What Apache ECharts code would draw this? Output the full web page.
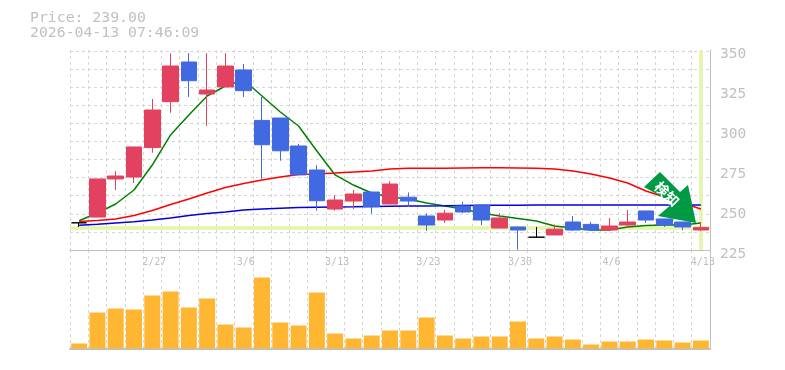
<!DOCTYPE html>
<html><head><meta charset="utf-8">
<style>html,body{margin:0;padding:0;background:#fff}#c{width:785px;height:370px}</style>
<script src="https://cdn.jsdelivr.net/npm/echarts@6/dist/echarts.min.js"></script>
</head><body><div id="c"></div>
<script>
const priceText = 'Price: 239.00';
const timeText = '2026-04-13 07:46:09';
const lastPrice = 239;
const arrowText = '検知';
const dates = ['2/20','2/24','2/25','2/26','2/27','3/2','3/3','3/4','3/5','3/6','3/9','3/10','3/11','3/12','3/13','3/16','3/17','3/18','3/19','3/23','3/24','3/25','3/26','3/27','3/30','3/31','4/1','4/2','4/3','4/6','4/7','4/8','4/9','4/10','4/13'];
const opens  = [242,245.6,269.4,270.6,289,317.7,342.5,322.5,326.9,337.5,306,307.5,290,275,250.6,255.6,261.25,253.75,258,246.25,243.75,252.5,253,238.75,239.4,233,234.4,242.5,241,237.5,240.6,249.4,244.4,242.5,237.5];
const closes = [242,269.4,271.25,289.4,312.5,340,330.8,325,340,324.6,290.8,287,272,255.8,256.25,260,252,266.25,255.6,240.6,248,248.75,243.75,245,237.5,233,238,237.5,237.5,240,242.5,243.75,240.6,239.4,239];
const lows   = [239.4,245.6,262.5,266.9,285.8,310.8,320.6,302.5,326.9,320.6,269.4,280.8,272,249.6,249.6,250.6,247.7,253.75,251.9,236.9,241.9,248,240.6,238.75,225.2,232.5,234.4,236.9,236.9,236.9,238.75,241.9,239.4,237.5,236.9];
const highs  = [242,269.4,274.4,289.4,319.4,348,348,348,348,341.3,320.6,307.5,291.3,278,259.4,262.5,261.25,268,261,248,250,255,253,248,239.4,239.4,241,246.25,242.5,245,250,249.4,244.4,242.5,242.5];
const ma5  = [243.3,248.1,253.75,262.5,278.1,296.9,309.4,321.25,327.5,331.25,321.25,311.25,302.5,286.9,271.9,265.6,260.6,258.1,256.9,254.4,252.5,250.6,248.1,246.25,244.7,243.1,240,238.75,237.5,237.5,239.4,240.3,240.6,240.6,241.9];
const ma25 = [242.8,243.4,244.4,246.6,249.7,253.4,256.9,260.6,264.1,266.6,268.75,270.6,272.2,272.5,273.1,273.75,274.4,275.6,276.1,276.1,276.1,276.25,276.4,276.4,276.25,276.1,275.6,274.4,272.5,270,266.9,261.9,258.1,254.4,250.6];
const ma75 = [240.4,241.1,241.9,242.6,243.75,245,246.6,247.8,248.75,250,250.6,251.1,251.6,251.75,251.9,252,252.2,252.4,252.5,252.5,252.6,252.75,252.9,252.9,253,253.1,253.1,253.1,253.1,253.1,253.1,253.1,253.1,253.1,253.1];
const volumes = [5,36,40,39,53,57,41,50,24,21,71,26,23,56,15,10,13,18,18,31,13,10,12,12,27,10,12,9,4,7,7,9,8,6,8];
const priceTicks = [225,250,275,300,325,350];

const RED='#e2425f', BLUE='#4169e1', GRAY='#c0c0c0', GRID='#d6d6d6', HI='#e3f5a6';
const FONT='"DejaVu Sans Mono",monospace';
const candleData = dates.map((d,i)=>{
  const o={value:[opens[i],closes[i],lows[i],highs[i]]};
  if(opens[i]===closes[i]) o.itemStyle={color:'#000',color0:'#000',borderColor:'#000',borderColor0:'#000'};
  return o;
});
const labelIdx = new Set([4,9,14,19,24,29,34]);
const line=(name,data,color)=>({name,type:'line',data,xAxisIndex:0,yAxisIndex:0,showSymbol:false,symbol:'none',z:2,animation:false,lineStyle:{color,width:1.5}});
const chart=echarts.init(document.getElementById('c'),null,{renderer:'canvas'});
chart.setOption({
  animation:false,
  backgroundColor:'#fff',
  title:{text:priceText+'\n'+timeText,left:25,top:6,textStyle:{fontFamily:FONT,fontSize:14.8,fontWeight:'normal',color:GRAY,lineHeight:15}},
  grid:[
    {left:70,top:50,width:640,height:200},
    {left:70,top:250,width:640,height:98.5},
    {left:70,top:51,width:640,height:199}
  ],
  xAxis:[
    {type:'category',gridIndex:0,data:dates,boundaryGap:true,
      axisLine:{lineStyle:{color:GRAY,width:1}},axisTick:{show:false},
      axisLabel:{show:true,interval:(i)=>labelIdx.has(i),hideOverlap:false,color:GRAY,fontFamily:FONT,fontSize:10,margin:7,padding:[0,0,0,4]},
      splitLine:{show:true,interval:0,lineStyle:{color:GRID,type:[3,3],width:1}}},
    {type:'category',gridIndex:1,data:dates,boundaryGap:true,
      axisLine:{lineStyle:{color:GRAY,width:2}},axisTick:{show:false},axisLabel:{show:false},
      splitLine:{show:true,interval:0,lineStyle:{color:GRID,type:[3,3],width:1}}},
    {type:'category',gridIndex:2,data:dates,show:false}
  ],
  yAxis:[
    {type:'value',gridIndex:0,position:'right',min:priceTicks[0],max:priceTicks[priceTicks.length-1],interval:25,
      axisLine:{show:true,lineStyle:{color:GRAY,width:1}},axisTick:{show:false},
      axisLabel:{color:GRAY,fontFamily:FONT,fontSize:14.5,margin:10,verticalAlign:'top',lineHeight:9},
      splitLine:{show:false}},
    {type:'value',gridIndex:1,position:'right',min:0,max:98.5,
      axisLine:{show:true,lineStyle:{color:GRAY,width:1}},axisTick:{show:false},axisLabel:{show:false},splitLine:{show:false}},
    {type:'value',gridIndex:2,min:0,max:11,interval:1,
      axisLine:{show:false},axisTick:{show:false},axisLabel:{show:false},
      splitLine:{show:true,lineStyle:{color:GRID,type:[3,3],width:1}}}
  ],
  series:[
    {name:'hl',type:'line',xAxisIndex:0,yAxisIndex:0,data:[],z:1,silent:true,
      markLine:{silent:true,symbol:'none',label:{show:false},z:1,animation:false,
        lineStyle:{color:HI,width:3.5,type:'solid'},
        data:[{yAxis:lastPrice},{xAxis:dates[dates.length-1]}]}},
    line('ma5',ma5,'#008000'),
    line('ma25',ma25,'#ff0000'),
    line('ma75',ma75,'#0000e0'),
    {name:'price',type:'candlestick',xAxisIndex:0,yAxisIndex:0,data:candleData,barWidth:16,z:3,animation:false,
      itemStyle:{color:RED,color0:BLUE,borderColor:RED,borderColor0:BLUE,borderWidth:1}},
    {name:'volume',type:'bar',xAxisIndex:1,yAxisIndex:1,data:volumes,barWidth:16,z:3,animation:false,
      itemStyle:{color:'#ffb733'}}
  ],
  graphic:[
    {type:'polygon',z:100,shape:{points:[[660,172],[644,187],[673,203],[658,216],[696,223],[688,185],[680,192]]},style:{fill:'#009944'}},
    {type:'text',z:101,x:667,y:194,rotation:-Math.PI/4,style:{text:arrowText,fill:'#fff',font:'bold 14px "Noto Sans CJK JP"',align:'center',verticalAlign:'middle'}}
  ]
});
</script></body></html>
